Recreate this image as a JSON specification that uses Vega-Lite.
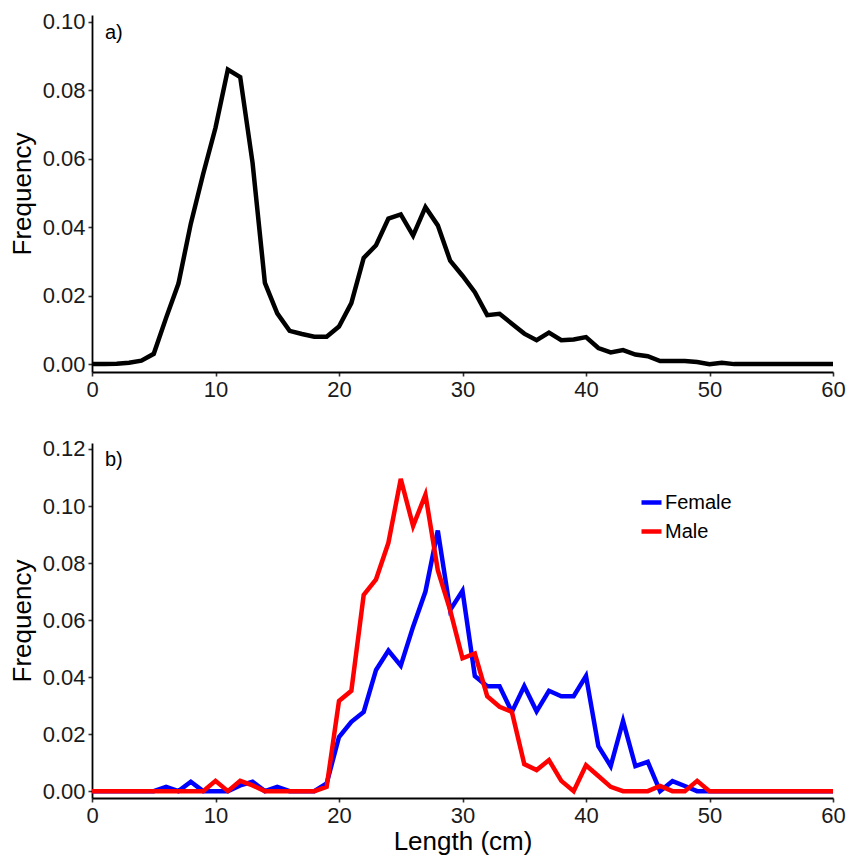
{
  "$schema": "https://vega.github.io/schema/vega-lite/v6.json",
  "background": "white",
  "padding": {"left": 9, "top": 10, "right": 5, "bottom": 2},
  "spacing": 71,
  "bounds": "flush",
  "config": {
    "font": "Liberation Sans",
    "view": {"stroke": null},
    "axis": {
      "grid": false,
      "labelFlush": false,
      "labelFont": "Liberation Sans",
      "labelFontSize": 22,
      "labelColor": "#1a1a1a",
      "titleFont": "Liberation Sans",
      "titleFontSize": 26,
      "titleFontWeight": "normal",
      "titleColor": "#000000",
      "domainColor": "#000000",
      "domainWidth": 1.8,
      "tickColor": "#333333",
      "tickWidth": 1.6,
      "tickSize": 4,
      "labelPadding": 3
    },
    "legend": {
      "labelFont": "Liberation Sans",
      "labelFontSize": 20,
      "labelColor": "#000000"
    },
    "title": {"font": "Liberation Sans", "fontSize": 20, "fontWeight": "normal", "color": "#000000"}
  },
  "vconcat": [
    {
      "width": 741,
      "height": 357,
      "title": {"text": "a)", "anchor": "start", "frame": "group", "baseline": "top", "offset": -32, "dx": 13},
      "data": {
        "values": [
          {"length": 0, "freq": 0}, {"length": 1, "freq": 0}, {"length": 2, "freq": 0.0001}, {"length": 3, "freq": 0.0004},
          {"length": 4, "freq": 0.001}, {"length": 5, "freq": 0.003}, {"length": 6, "freq": 0.0135}, {"length": 7, "freq": 0.0235},
          {"length": 8, "freq": 0.041}, {"length": 9, "freq": 0.0555}, {"length": 10, "freq": 0.069}, {"length": 11, "freq": 0.086},
          {"length": 12, "freq": 0.0838}, {"length": 13, "freq": 0.0588}, {"length": 14, "freq": 0.0237}, {"length": 15, "freq": 0.0148},
          {"length": 16, "freq": 0.0097}, {"length": 17, "freq": 0.0088}, {"length": 18, "freq": 0.008}, {"length": 19, "freq": 0.008},
          {"length": 20, "freq": 0.011}, {"length": 21, "freq": 0.0178}, {"length": 22, "freq": 0.031}, {"length": 23, "freq": 0.0347},
          {"length": 24, "freq": 0.0425}, {"length": 25, "freq": 0.0437}, {"length": 26, "freq": 0.0375}, {"length": 27, "freq": 0.0458},
          {"length": 28, "freq": 0.0405}, {"length": 29, "freq": 0.0302}, {"length": 30, "freq": 0.0258}, {"length": 31, "freq": 0.021},
          {"length": 32, "freq": 0.0143}, {"length": 33, "freq": 0.0147}, {"length": 34, "freq": 0.0118}, {"length": 35, "freq": 0.0089},
          {"length": 36, "freq": 0.007}, {"length": 37, "freq": 0.0092}, {"length": 38, "freq": 0.007}, {"length": 39, "freq": 0.0072},
          {"length": 40, "freq": 0.0079}, {"length": 41, "freq": 0.0047}, {"length": 42, "freq": 0.0034}, {"length": 43, "freq": 0.0041},
          {"length": 44, "freq": 0.0028}, {"length": 45, "freq": 0.0023}, {"length": 46, "freq": 0.0009}, {"length": 47, "freq": 0.0009},
          {"length": 48, "freq": 0.0009}, {"length": 49, "freq": 0.0006}, {"length": 50, "freq": 0}, {"length": 51, "freq": 0.0004},
          {"length": 52, "freq": 0}, {"length": 53, "freq": 0}, {"length": 54, "freq": 0}, {"length": 55, "freq": 0},
          {"length": 56, "freq": 0}, {"length": 57, "freq": 0}, {"length": 58, "freq": 0}, {"length": 59, "freq": 0}, {"length": 60, "freq": 0}
        ]
      },
      "mark": {"type": "line", "color": "#000000", "strokeWidth": 4.5, "strokeJoin": "miter", "clip": true},
      "encoding": {
        "x": {"field": "length", "type": "quantitative", "scale": {"domain": [0, 60], "nice": false, "zero": false},
              "axis": {"values": [0, 10, 20, 30, 40, 50, 60], "title": null}},
        "y": {"field": "freq", "type": "quantitative", "scale": {"domain": [-0.0023, 0.1019], "nice": false, "zero": false},
              "axis": {"values": [0, 0.02, 0.04, 0.06, 0.08, 0.1], "format": ".2f", "title": "Frequency", "titlePadding": 7}}
      }
    },
    {
      "width": 741,
      "height": 355,
      "title": {"text": "b)", "anchor": "start", "frame": "group", "baseline": "top", "offset": -32, "dx": 13},
      "data": {
        "values": [
          {"length": 0, "sex": "Female", "freq": 0}, {"length": 1, "sex": "Female", "freq": 0}, {"length": 2, "sex": "Female", "freq": 0},
          {"length": 3, "sex": "Female", "freq": 0}, {"length": 4, "sex": "Female", "freq": 0}, {"length": 5, "sex": "Female", "freq": 0},
          {"length": 6, "sex": "Female", "freq": 0.0015}, {"length": 7, "sex": "Female", "freq": 0}, {"length": 8, "sex": "Female", "freq": 0.0033},
          {"length": 9, "sex": "Female", "freq": 0}, {"length": 10, "sex": "Female", "freq": 0}, {"length": 11, "sex": "Female", "freq": 0},
          {"length": 12, "sex": "Female", "freq": 0.002}, {"length": 13, "sex": "Female", "freq": 0.0033}, {"length": 14, "sex": "Female", "freq": 0},
          {"length": 15, "sex": "Female", "freq": 0.0015}, {"length": 16, "sex": "Female", "freq": 0}, {"length": 17, "sex": "Female", "freq": 0},
          {"length": 18, "sex": "Female", "freq": 0}, {"length": 19, "sex": "Female", "freq": 0.0027}, {"length": 20, "sex": "Female", "freq": 0.019},
          {"length": 21, "sex": "Female", "freq": 0.0243}, {"length": 22, "sex": "Female", "freq": 0.0278}, {"length": 23, "sex": "Female", "freq": 0.0425},
          {"length": 24, "sex": "Female", "freq": 0.0493}, {"length": 25, "sex": "Female", "freq": 0.044}, {"length": 26, "sex": "Female", "freq": 0.0577},
          {"length": 27, "sex": "Female", "freq": 0.07}, {"length": 28, "sex": "Female", "freq": 0.0914}, {"length": 29, "sex": "Female", "freq": 0.0635},
          {"length": 30, "sex": "Female", "freq": 0.0703}, {"length": 31, "sex": "Female", "freq": 0.0404}, {"length": 32, "sex": "Female", "freq": 0.0368},
          {"length": 33, "sex": "Female", "freq": 0.0368}, {"length": 34, "sex": "Female", "freq": 0.0278}, {"length": 35, "sex": "Female", "freq": 0.0368},
          {"length": 36, "sex": "Female", "freq": 0.028}, {"length": 37, "sex": "Female", "freq": 0.0352}, {"length": 38, "sex": "Female", "freq": 0.0333},
          {"length": 39, "sex": "Female", "freq": 0.0333}, {"length": 40, "sex": "Female", "freq": 0.0404}, {"length": 41, "sex": "Female", "freq": 0.0158},
          {"length": 42, "sex": "Female", "freq": 0.0088}, {"length": 43, "sex": "Female", "freq": 0.0246}, {"length": 44, "sex": "Female", "freq": 0.0088},
          {"length": 45, "sex": "Female", "freq": 0.0103}, {"length": 46, "sex": "Female", "freq": 0}, {"length": 47, "sex": "Female", "freq": 0.0035},
          {"length": 48, "sex": "Female", "freq": 0.0018}, {"length": 49, "sex": "Female", "freq": 0}, {"length": 50, "sex": "Female", "freq": 0},
          {"length": 51, "sex": "Female", "freq": 0}, {"length": 52, "sex": "Female", "freq": 0}, {"length": 53, "sex": "Female", "freq": 0},
          {"length": 54, "sex": "Female", "freq": 0}, {"length": 55, "sex": "Female", "freq": 0}, {"length": 56, "sex": "Female", "freq": 0},
          {"length": 57, "sex": "Female", "freq": 0}, {"length": 58, "sex": "Female", "freq": 0}, {"length": 59, "sex": "Female", "freq": 0},
          {"length": 60, "sex": "Female", "freq": 0},
          {"length": 0, "sex": "Male", "freq": 0}, {"length": 1, "sex": "Male", "freq": 0}, {"length": 2, "sex": "Male", "freq": 0},
          {"length": 3, "sex": "Male", "freq": 0}, {"length": 4, "sex": "Male", "freq": 0}, {"length": 5, "sex": "Male", "freq": 0},
          {"length": 6, "sex": "Male", "freq": 0}, {"length": 7, "sex": "Male", "freq": 0}, {"length": 8, "sex": "Male", "freq": 0},
          {"length": 9, "sex": "Male", "freq": 0}, {"length": 10, "sex": "Male", "freq": 0.0036}, {"length": 11, "sex": "Male", "freq": 0},
          {"length": 12, "sex": "Male", "freq": 0.0036}, {"length": 13, "sex": "Male", "freq": 0.002}, {"length": 14, "sex": "Male", "freq": 0},
          {"length": 15, "sex": "Male", "freq": 0}, {"length": 16, "sex": "Male", "freq": 0}, {"length": 17, "sex": "Male", "freq": 0},
          {"length": 18, "sex": "Male", "freq": 0}, {"length": 19, "sex": "Male", "freq": 0.0015}, {"length": 20, "sex": "Male", "freq": 0.0316},
          {"length": 21, "sex": "Male", "freq": 0.0352}, {"length": 22, "sex": "Male", "freq": 0.0688}, {"length": 23, "sex": "Male", "freq": 0.0743},
          {"length": 24, "sex": "Male", "freq": 0.0871}, {"length": 25, "sex": "Male", "freq": 0.1095}, {"length": 26, "sex": "Male", "freq": 0.093},
          {"length": 27, "sex": "Male", "freq": 0.104}, {"length": 28, "sex": "Male", "freq": 0.0775}, {"length": 29, "sex": "Male", "freq": 0.0635},
          {"length": 30, "sex": "Male", "freq": 0.0466}, {"length": 31, "sex": "Male", "freq": 0.0483}, {"length": 32, "sex": "Male", "freq": 0.0333},
          {"length": 33, "sex": "Male", "freq": 0.0296}, {"length": 34, "sex": "Male", "freq": 0.0278}, {"length": 35, "sex": "Male", "freq": 0.0095},
          {"length": 36, "sex": "Male", "freq": 0.0074}, {"length": 37, "sex": "Male", "freq": 0.0109}, {"length": 38, "sex": "Male", "freq": 0.0036},
          {"length": 39, "sex": "Male", "freq": 0}, {"length": 40, "sex": "Male", "freq": 0.0091}, {"length": 41, "sex": "Male", "freq": 0.0053},
          {"length": 42, "sex": "Male", "freq": 0.0015}, {"length": 43, "sex": "Male", "freq": 0}, {"length": 44, "sex": "Male", "freq": 0},
          {"length": 45, "sex": "Male", "freq": 0}, {"length": 46, "sex": "Male", "freq": 0.0018}, {"length": 47, "sex": "Male", "freq": 0},
          {"length": 48, "sex": "Male", "freq": 0}, {"length": 49, "sex": "Male", "freq": 0.0036}, {"length": 50, "sex": "Male", "freq": 0},
          {"length": 51, "sex": "Male", "freq": 0}, {"length": 52, "sex": "Male", "freq": 0}, {"length": 53, "sex": "Male", "freq": 0},
          {"length": 54, "sex": "Male", "freq": 0}, {"length": 55, "sex": "Male", "freq": 0}, {"length": 56, "sex": "Male", "freq": 0},
          {"length": 57, "sex": "Male", "freq": 0}, {"length": 58, "sex": "Male", "freq": 0}, {"length": 59, "sex": "Male", "freq": 0},
          {"length": 60, "sex": "Male", "freq": 0}
        ]
      },
      "mark": {"type": "line", "strokeWidth": 4.5, "strokeJoin": "miter", "clip": true},
      "encoding": {
        "x": {"field": "length", "type": "quantitative", "scale": {"domain": [0, 60], "nice": false, "zero": false},
              "axis": {"values": [0, 10, 20, 30, 40, 50, 60], "title": "Length (cm)", "titlePadding": 2}},
        "y": {"field": "freq", "type": "quantitative", "scale": {"domain": [-0.0024, 0.1221], "nice": false, "zero": false},
              "axis": {"values": [0, 0.02, 0.04, 0.06, 0.08, 0.1, 0.12], "format": ".2f", "title": "Frequency", "titlePadding": 7}},
        "color": {"field": "sex", "type": "nominal", "scale": {"domain": ["Female", "Male"], "range": ["#0000FF", "#FF0000"]},
                  "legend": {"title": null, "orient": "none", "legendX": 547, "legendY": 475, "symbolType": "stroke", "symbolStrokeWidth": 4.5,
                             "symbolSize": 400, "labelOffset": 1, "rowPadding": 6}}
      }
    }
  ]
}
